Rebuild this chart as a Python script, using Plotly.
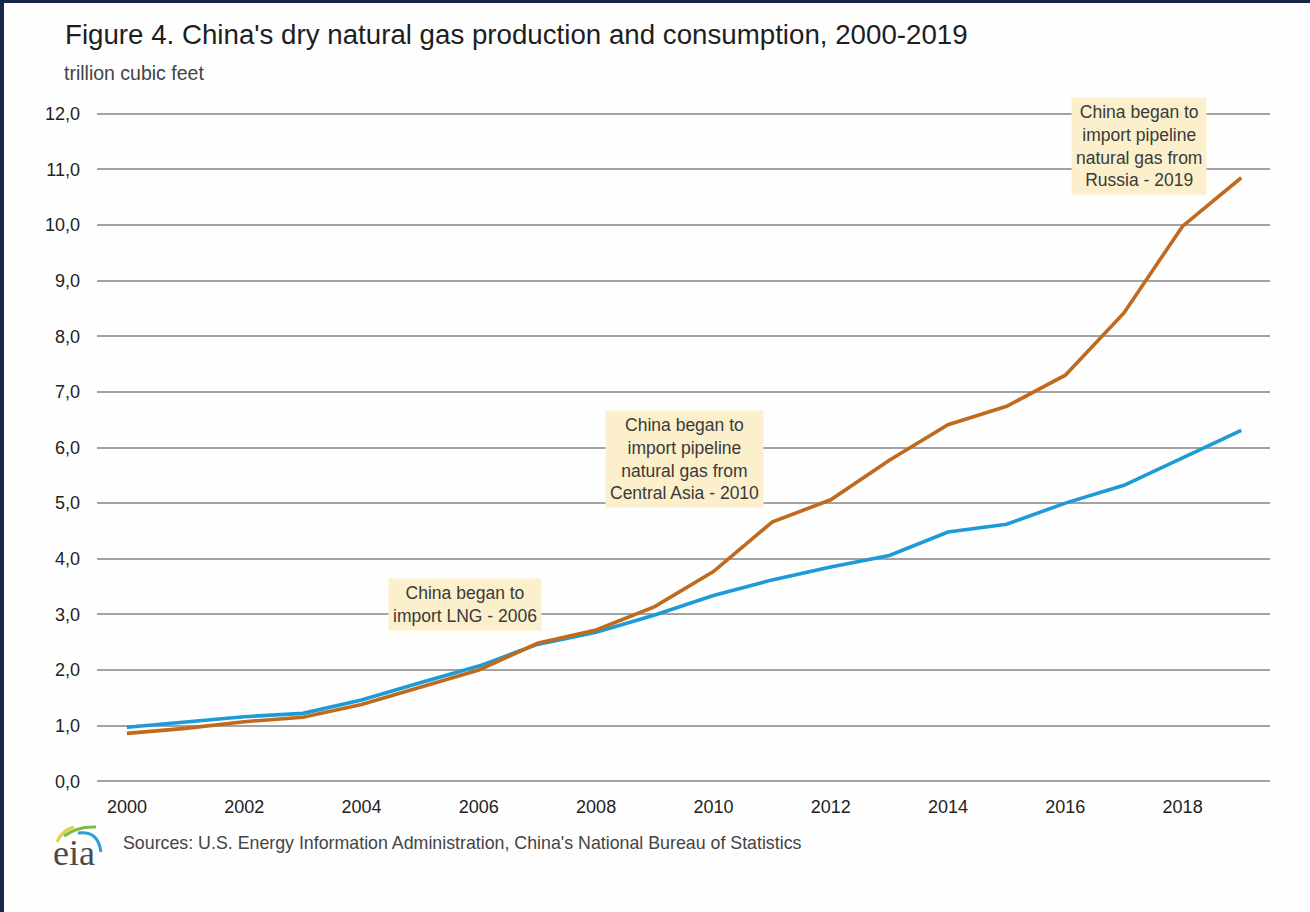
import plotly.graph_objects as go

# ---------------- data ----------------
years = list(range(2000, 2020))
production = [0.97, 1.06, 1.16, 1.22, 1.46, 1.77, 2.07, 2.46, 2.68, 2.99,
              3.34, 3.62, 3.85, 4.06, 4.48, 4.62, 5.00, 5.32, 5.81, 6.31]
consumption = [0.86, 0.95, 1.07, 1.15, 1.38, 1.69, 2.00, 2.48, 2.72, 3.14,
               3.77, 4.66, 5.06, 5.77, 6.41, 6.74, 7.30, 8.42, 9.98, 10.85]
y_ticks = [0, 1, 2, 3, 4, 5, 6, 7, 8, 9, 10, 11, 12]
x_ticks = list(range(2000, 2019, 2))

notes_text = ["China began to<br>import LNG - 2006",
              "China began to<br>import pipeline<br>natural gas from<br>Central Asia - 2010",
              "China began to<br>import pipeline<br>natural gas from<br>Russia - 2019"]
notes_x = [2005.76, 2009.51, 2017.25]
notes_y = [3.17, 5.80, 11.42]

title = "Figure 4. China's dry natural gas production and consumption, 2000-2019"
subtitle = "trillion cubic feet"
source = "Sources: U.S. Energy Information Administration, China's National Bureau of Statistics"

# ---------------- layout helpers ----------------
W, H = 1310, 912
L, R, T, B = 97, 40, 111, 128
PW, PH = W - L - R, H - T - B


def px(x):
    return (x - L) / PW


def py(y):
    return (H - B - y) / PH


FONT = "Liberation Sans, Arial, sans-serif"

fig = go.Figure()
fig.add_trace(go.Scatter(x=years, y=production, mode="lines",
                         line=dict(color="#1E9AD6", width=3.6),
                         name="production", hoverinfo="x+y"))
fig.add_trace(go.Scatter(x=years, y=consumption, mode="lines",
                         line=dict(color="#C06A1E", width=3.6),
                         name="consumption", hoverinfo="x+y"))

annotations = []
for t, x, y in zip(notes_text, notes_x, notes_y):
    annotations.append(dict(x=x, y=y, xref="x", yref="y", text=t, showarrow=False,
                            font=dict(family=FONT, size=17.5, color="#3a3a3a"),
                            bgcolor="#FBF0CB", borderpad=4, align="center",
                            xanchor="center", yanchor="middle"))

annotations += [
    dict(x=px(63), y=py(35), xref="paper", yref="paper", text=title, showarrow=False,
         xanchor="left", yanchor="middle", font=dict(family=FONT, size=27.7, color="#1e1e1e")),
    dict(x=px(62), y=py(73), xref="paper", yref="paper", text=subtitle, showarrow=False,
         xanchor="left", yanchor="middle", font=dict(family=FONT, size=19.5, color="#444444")),
    dict(x=px(121), y=py(843), xref="paper", yref="paper", text=source, showarrow=False,
         xanchor="left", yanchor="middle", font=dict(family=FONT, size=17.8, color="#444444")),
    dict(x=px(74), y=py(853), xref="paper", yref="paper", text="eia", showarrow=False,
         xanchor="center", yanchor="middle",
         font=dict(family="Liberation Serif, Times New Roman, serif", size=36, color="#4a4a4a")),
]


def qpath(p0, c, p1):
    return "M {} {} Q {} {} {} {}".format(px(p0[0]), py(p0[1]), px(c[0]), py(c[1]), px(p1[0]), py(p1[1]))


shapes = [
    # page frame (dark edges on the left and top)
    dict(type="rect", xref="paper", yref="paper", x0=px(0), x1=px(4), y0=py(H), y1=py(0),
         fillcolor="#16274A", line=dict(width=0), layer="above"),
    dict(type="rect", xref="paper", yref="paper", x0=px(0), x1=px(W), y0=py(3), y1=py(0),
         fillcolor="#16274A", line=dict(width=0), layer="above"),
    # eia logo swooshes
    dict(type="path", xref="paper", yref="paper", path=qpath((57, 842), (62, 830), (74, 827)),
         line=dict(color="#E3CF4A", width=3)),
    dict(type="path", xref="paper", yref="paper", path=qpath((64, 836), (78, 826), (96, 827)),
         line=dict(color="#7DBB42", width=3)),
    dict(type="path", xref="paper", yref="paper", path=qpath((78, 833), (98, 830), (101, 852)),
         line=dict(color="#2A9FD8", width=3)),
]

fig.update_layout(
    width=W, height=H,
    margin=dict(l=L, r=R, t=T, b=B),
    paper_bgcolor="#FEFEFE", plot_bgcolor="#FEFEFE",
    showlegend=False,
    separators=",.",
    annotations=annotations,
    shapes=shapes,
    xaxis=dict(range=[1999.49, 2019.49], tickvals=x_ticks, showgrid=False, zeroline=False,
               showline=False, ticks="", ticklabelstandoff=10,
               tickfont=dict(family=FONT, size=18, color="#222222")),
    yaxis=dict(range=[-0.05, 12.05], tickvals=y_ticks, tickformat=".1f",
               showgrid=True, gridcolor="#A3A3A3", gridwidth=2, zeroline=False,
               showline=False, ticks="", ticklabelstandoff=16,
               tickfont=dict(family=FONT, size=18, color="#222222")),
)

fig.write_html("out.html", config={"displayModeBar": False},
               post_script="document.body.style.margin='0';")
